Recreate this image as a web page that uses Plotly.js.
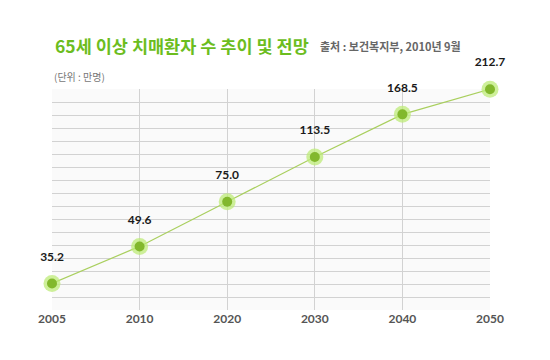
<!DOCTYPE html>
<html><head><meta charset="utf-8">
<script src="https://cdn.plot.ly/plotly-3.0.1.min.js"></script>
<style>html,body{margin:0;padding:0;background:#fff}#c{width:550px;height:360px}</style>
</head><body><div id="c"></div>
<script>
const years = ['2005','2010','2020','2030','2040','2050'];
const patients = [35.2, 49.6, 75.0, 113.5, 168.5, 212.7];
const titleText = '65세 이상 치매환자 수 추이 및 전망';
const sourceText = '출처 : 보건복지부, 2010년 9월';
const unitText = '(단위 : 만명)';

const kr = '"Noto Sans CJK KR", "Noto Sans", sans-serif';
const num = 'Lato, "Noto Sans", sans-serif';

const traces = [
  {x: years, y: patients, type: 'scatter', mode: 'lines', cliponaxis: false,
   line: {color: '#a9cf5e', width: 1.2}, hoverinfo: 'skip'},
  {x: years, y: patients, type: 'scatter', mode: 'markers', cliponaxis: false,
   marker: {size: 17, color: 'rgba(190,235,120,0.75)'}, hoverinfo: 'skip'},
  {x: years, y: patients, type: 'scatter', mode: 'markers', cliponaxis: false,
   marker: {size: 10, color: '#82b82c'}, hoverinfo: 'skip'},
  {x: years, y: patients, type: 'scatter', mode: 'markers+text', cliponaxis: false,
   text: patients.map(v => '<b>' + v.toFixed(1) + '</b>'), textposition: 'top center',
   textfont: {family: num, size: 12, color: '#1a1a1a'},
   marker: {size: 30, opacity: 0}, hoverinfo: 'skip'},
  {x: [years[0]], y: [patients[0]], type: 'scatter', mode: 'markers', yaxis: 'y2',
   marker: {opacity: 0}, hoverinfo: 'skip'}
];

const annotations = [
  {xref: 'paper', yref: 'paper', x: 1/438, y: 1 + (89-45)/221, xanchor: 'left', yanchor: 'middle',
   text: '<b>' + titleText + '</b>', showarrow: false, font: {family: kr, size: 17.5, color: '#6cbd1e'}},
  {xref: 'paper', yref: 'paper', x: (318-52)/438, y: 1 + (89-46)/221, xanchor: 'left', yanchor: 'middle',
   text: '<b>' + sourceText + '</b>', showarrow: false, font: {family: kr, size: 11, color: '#666'}},
  {xref: 'paper', yref: 'paper', x: 0, y: 1 + (89-76)/221, xanchor: 'left', yanchor: 'middle',
   text: unitText, showarrow: false, font: {family: kr, size: 10, color: '#777'}}
];

const layout = {
  width: 550, height: 360,
  margin: {l: 52, r: 60, t: 89, b: 50},
  paper_bgcolor: '#ffffff', plot_bgcolor: '#fafafa',
  showlegend: false,
  xaxis: {type: 'category', range: [0, years.length - 1], showgrid: true, gridcolor: '#d2d2d2',
    zeroline: false, showline: false, ticks: '',
    tickfont: {family: num, size: 12, color: '#555', weight: 'bold'}, fixedrange: true},
  yaxis: {type: 'log', range: [1.4398, 2.3285], showgrid: false, showticklabels: false,
    zeroline: false, ticks: '', fixedrange: true},
  yaxis2: {overlaying: 'y', range: [0, 17], dtick: 1, tick0: 0, showgrid: true, gridcolor: '#d2d2d2',
    showticklabels: false, zeroline: false, ticks: '', showline: false, fixedrange: true},
  annotations: annotations
};
Plotly.newPlot('c', traces, layout, {displayModeBar: false, staticPlot: true});
</script></body></html>
